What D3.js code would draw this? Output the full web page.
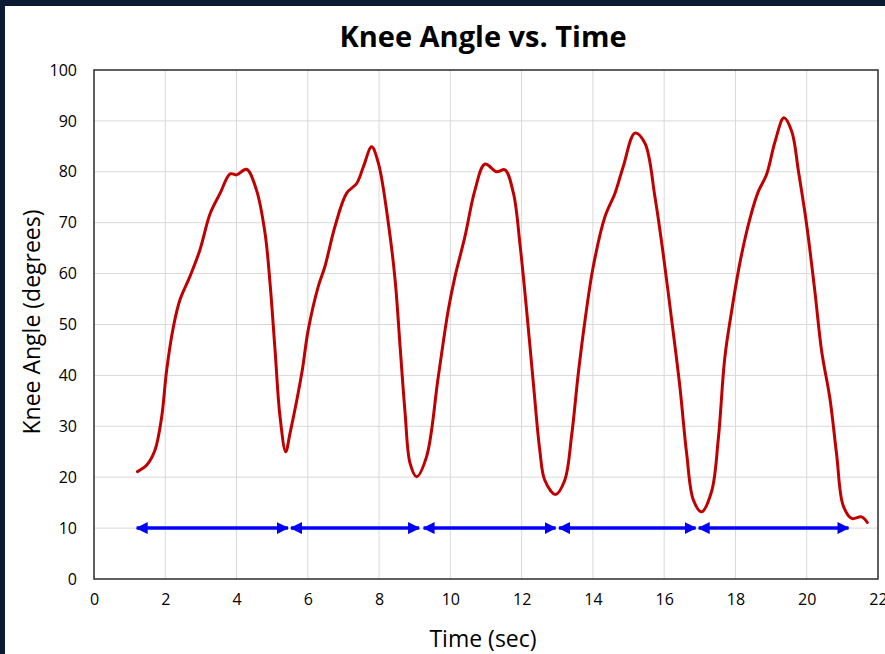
<!DOCTYPE html>
<html>
<head>
<meta charset="utf-8">
<script src="https://cdn.jsdelivr.net/npm/d3@7"></script>
<style>
  html, body { margin: 0; padding: 0; background: #0b1a33; }
  svg { display: block; }
</style>
</head>
<body>
<svg id="chart" width="885" height="654"></svg>
<script>
// knee angle trace
const time = [1.22, 1.48, 1.71, 1.90, 2.04, 2.23, 2.41, 2.69, 2.97, 3.26, 3.54, 3.82, 4.0, 4.28, 4.56, 4.80, 4.94, 5.08, 5.22, 5.38,
  5.50, 5.83, 6.01, 6.29, 6.48, 6.76, 7.09, 7.37, 7.56, 7.79, 7.98, 8.26, 8.45, 8.59, 8.73, 8.87, 9.05,
  9.33, 9.66, 9.94, 10.13, 10.41, 10.69, 10.97, 11.30, 11.53, 11.77, 11.95, 12.14, 12.33, 12.51, 12.65, 12.95,
  13.21, 13.40, 13.59, 13.78, 14.01, 14.34, 14.62, 14.85, 15.18, 15.46, 15.74, 15.97, 16.21, 16.44, 16.63, 16.82, 17.05,
  17.33, 17.52, 17.70, 17.89, 18.13, 18.41, 18.64, 18.87, 19.11, 19.36, 19.58, 19.77, 20.00, 20.23, 20.42, 20.65, 20.84, 21.02,
  21.26, 21.54, 21.70];
const angle = [21.1, 22.4, 25.3, 31.9, 41.1, 49.6, 54.8, 59.4, 64.6, 71.8, 75.8, 79.6, 79.4, 80.5, 76.4, 67.9, 58.1, 45.0, 31.9, 25.0,
  28.6, 40.4, 48.9, 57.4, 61.4, 69.2, 75.8, 77.7, 81.0, 84.9, 81.7, 69.9, 58.7, 45.6, 32.6, 22.7, 20.1,
  24.0, 39.7, 52.8, 59.4, 67.3, 76.4, 81.5, 80.0, 80.4, 75.8, 66.0, 52.8, 38.4, 25.3, 19.4, 16.6,
  19.4, 28.0, 40.4, 50.9, 61.4, 71.2, 75.8, 81.0, 87.6, 85.6, 75.1, 64.0, 50.9, 37.8, 24.7, 15.5, 13.2,
  17.2, 27.6, 43.4, 52.5, 62.3, 70.9, 76.1, 79.4, 85.9, 90.6, 87.9, 80.0, 69.5, 56.4, 44.7, 35.5, 24.4, 14.5,
  11.9, 12.2, 11.1];

// gait cycle arrows
const arrowStart = [1.17, 5.50, 9.22, 13.02, 16.94];
const arrowEnd = [5.47, 9.15, 12.98, 16.91, 21.20];
const arrowLevel = 10;

const xTicks = [0, 2, 4, 6, 8, 10, 12, 14, 16, 18, 20, 22];
const yTicks = [0, 10, 20, 30, 40, 50, 60, 70, 80, 90, 100];

const svg = d3.select('#chart');
const plotLeft = 94, plotRight = 878, plotTop = 70, plotBottom = 579;

svg.append('rect').attr('x', 5).attr('y', 6).attr('width', 880).attr('height', 648).attr('fill', '#ffffff');

const x = d3.scaleLinear().domain([0, 22]).range([plotLeft, plotRight]);
const y = d3.scaleLinear().domain([0, 100]).range([plotBottom, plotTop]);

// grid
svg.append('g').selectAll('line.gx').data(xTicks.slice(1, -1)).enter().append('line')
  .attr('x1', d => x(d)).attr('x2', d => x(d)).attr('y1', plotTop).attr('y2', plotBottom)
  .attr('stroke', '#d9d9d9').attr('stroke-width', 1);
svg.append('g').selectAll('line.gy').data(yTicks.slice(1, -1)).enter().append('line')
  .attr('x1', plotLeft).attr('x2', plotRight).attr('y1', d => y(d)).attr('y2', d => y(d))
  .attr('stroke', '#d9d9d9').attr('stroke-width', 1);

// axes, labels only
const xAxis = svg.append('g').attr('transform', 'translate(0,' + plotBottom + ')')
  .call(d3.axisBottom(x).tickValues(xTicks).tickSize(0).tickPadding(15));
const yAxis = svg.append('g').attr('transform', 'translate(' + plotLeft + ',0)')
  .call(d3.axisLeft(y).tickValues(yTicks).tickSize(0).tickPadding(17));
[xAxis, yAxis].forEach(function(a) {
  a.select('.domain').remove();
  a.selectAll('text').attr('font-family', 'Open Sans').attr('font-size', 16).attr('fill', '#000');
});

svg.append('rect').attr('x', plotLeft).attr('y', plotTop).attr('width', plotRight - plotLeft).attr('height', plotBottom - plotTop)
  .attr('fill', 'none').attr('stroke', '#2b2b2b').attr('stroke-width', 1.5);

// arrows
const defs = svg.append('defs');
defs.append('marker').attr('id', 'head').attr('viewBox', '0 0 12 12')
  .attr('refX', 11).attr('refY', 6).attr('markerWidth', 12).attr('markerHeight', 12)
  .attr('markerUnits', 'userSpaceOnUse').attr('orient', 'auto-start-reverse')
  .append('path').attr('d', 'M0,0 L12,6 L0,12 Z').attr('fill', '#0000ff');

svg.append('g').selectAll('line.arrow').data(arrowStart).enter().append('line')
  .attr('x1', d => x(d) + 1).attr('x2', (d, i) => x(arrowEnd[i]) - 1)
  .attr('y1', y(arrowLevel)).attr('y2', y(arrowLevel))
  .attr('stroke', '#0000ff').attr('stroke-width', 3.5)
  .attr('marker-start', 'url(#head)').attr('marker-end', 'url(#head)');

// knee angle line
const line = d3.line().x(d => x(d[0])).y(d => y(d[1])).curve(d3.curveCatmullRom.alpha(0.5));
svg.append('path').datum(time.map((t, i) => [t, angle[i]]))
  .attr('d', line).attr('fill', 'none').attr('stroke', '#c00000').attr('stroke-width', 3)
  .attr('stroke-linejoin', 'round').attr('stroke-linecap', 'round');

// titles
svg.append('text').attr('x', 483).attr('y', 47).attr('text-anchor', 'middle')
  .attr('font-family', 'Open Sans').attr('font-weight', 'bold').attr('font-size', 29)
  .text('Knee Angle vs. Time');
svg.append('text').attr('x', 483).attr('y', 647).attr('text-anchor', 'middle')
  .attr('font-family', 'Open Sans').attr('font-size', 23).text('Time (sec)');
svg.append('text').attr('transform', 'translate(40,322) rotate(-90)').attr('text-anchor', 'middle')
  .attr('font-family', 'Open Sans').attr('font-size', 23).text('Knee Angle (degrees)');
</script>
</body>
</html>
